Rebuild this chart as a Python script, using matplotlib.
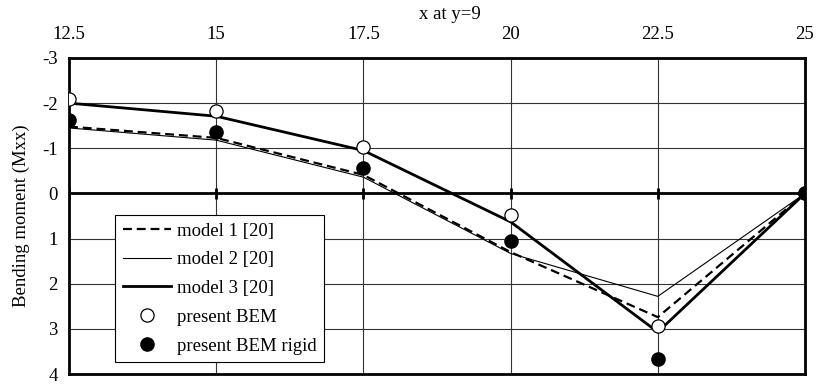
import matplotlib
matplotlib.use("Agg")
import matplotlib.pyplot as plt

# x positions along the line y=9
x = [12.5, 15, 17.5, 20, 22.5, 25]

# bending moment Mxx
model1 = [-1.48, -1.23, -0.41, 1.30, 2.74, 0.0]
model2 = [-1.45, -1.18, -0.36, 1.33, 2.28, 0.0]
model3 = [-2.00, -1.71, -0.95, 0.63, 3.07, 0.0]
bem = [-2.09, -1.83, -1.03, 0.48, 2.94, 0.0]
bem_rigid = [-1.63, -1.37, -0.56, 1.05, 3.67, 0.0]

y_ticks = [-3, -2, -1, 0, 1, 2, 3, 4]

plt.rcParams['font.family'] = ['Liberation Serif', 'DejaVu Serif']
plt.rcParams['axes.unicode_minus'] = False

fs = 13.5

fig = plt.figure(figsize=(8.17, 3.84), dpi=100)
ax = fig.add_axes([0.0845, 0.026, 0.9008, 0.823])

ax.plot(x, model1, color='black', lw=1.6, ls=(0, (4, 2.2)), label='model 1 [20]', zorder=3)
ax.plot(x, model2, color='black', lw=0.8, label='model 2 [20]', zorder=3)
ax.plot(x, model3, color='black', lw=2.0, label='model 3 [20]', zorder=3)
ax.plot(x, bem, ls='none', marker='o', ms=9.5, mfc='white', mec='black', mew=0.9,
        label='present BEM', zorder=4)
ax.plot(x, bem_rigid, ls='none', marker='o', ms=9.5, mfc='black', mec='black',
        label='present BEM rigid', zorder=5)

ax.set_xlim(x[0], x[-1])
ax.set_ylim(y_ticks[-1], y_ticks[0])
ax.set_xticks(x)
ax.set_xticklabels(['12.5', '15', '17.5', '20', '22.5', '25'])
ax.set_yticks(y_ticks)
ax.xaxis.tick_top()
ax.tick_params(axis='x', length=0, pad=11, labelsize=fs)
ax.tick_params(axis='y', length=0, pad=8, labelsize=fs)
fig.text(0.551, 0.963, 'x at y=9', fontsize=fs, ha='center', va='center')
ax.set_ylabel('Bending moment (Mxx)', fontsize=fs, labelpad=9)

ax.grid(True, color='#333333', lw=0.8)
ax.set_axisbelow(True)
for s in ax.spines.values():
    s.set_linewidth(2.0)

# zero line with small tick marks, as on a crossing category axis
ax.axhline(0, color='black', lw=2.0, zorder=2)
ax.vlines(x, -0.12, 0.12, color='black', lw=2.0, zorder=2)

leg = ax.legend(loc='lower left', bbox_to_anchor=(0.0625, 0.038), fontsize=fs,
                frameon=True, fancybox=False, edgecolor='black', framealpha=1,
                handlelength=2.6, handletextpad=0.3, labelspacing=0.62,
                borderpad=0.4, borderaxespad=0)
leg.get_frame().set_linewidth(0.8)

fig.savefig('out.png', dpi=100)
